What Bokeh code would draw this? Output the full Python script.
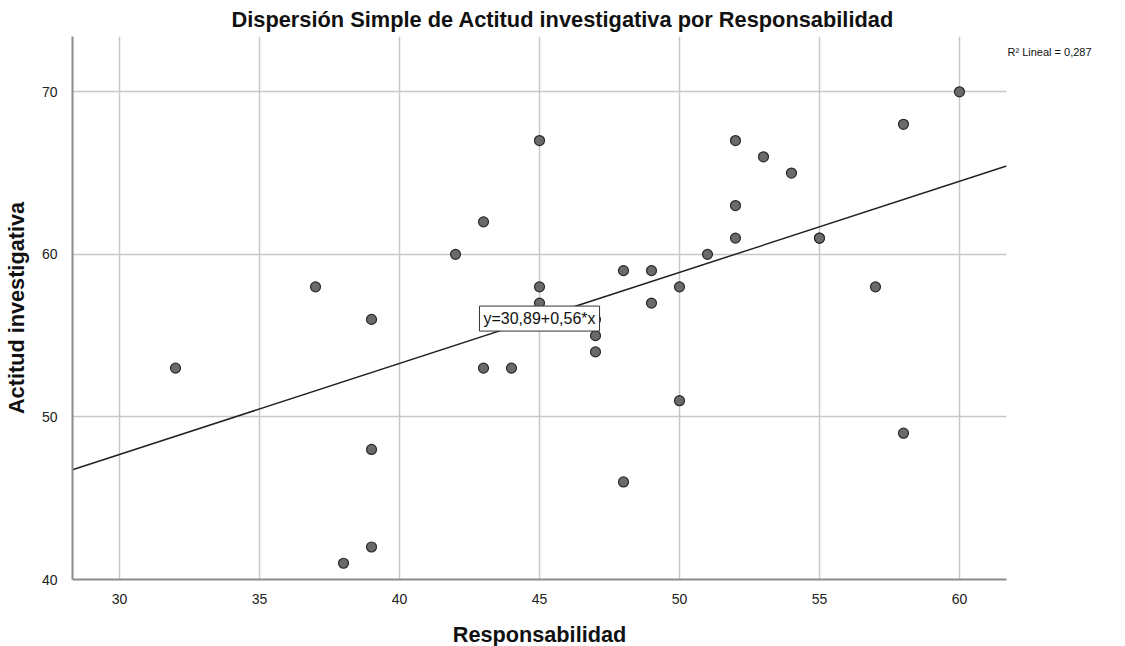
from bokeh.plotting import figure
from bokeh.models import Label, FixedTicker, Range1d
from bokeh.embed import file_html
from bokeh.resources import INLINE

# Data
responsabilidad = [32, 37, 38, 39, 39, 39, 42, 43, 43, 44, 45, 45, 45, 45,
                   47, 47, 47, 48, 48, 49, 49, 50, 50, 51, 52, 52, 52, 53,
                   54, 55, 55, 57, 58, 58, 60]
actitud = [53, 58, 41, 56, 48, 42, 60, 62, 53, 53, 67, 58, 57, 56,
           56, 55, 54, 59, 46, 59, 57, 58, 51, 60, 67, 63, 61, 66,
           65, 61, 61, 58, 68, 49, 70]
intercept = 30.89
slope = 0.56
r2_text = "R\u00b2 Lineal = 0,287"
eq_text = "y=30,89+0,56*x"
x_ticks = [30, 35, 40, 45, 50, 55, 60]
y_ticks = [40, 50, 60, 70]
x_range = (28.32, 61.68)
y_range = (40, 73.4)

FONT = "Liberation Sans"

p = figure(frame_width=934, frame_height=543, output_backend="svg", toolbar_location=None,
           x_range=Range1d(*x_range), y_range=Range1d(*y_range),
           min_border_left=65, min_border_right=105, min_border_top=27,
           min_border_bottom=55,
           title="Dispersión Simple de Actitud investigativa por Responsabilidad")

p.title.align = "left"
p.title.text_font = FONT
p.title.text_font_size = "21.8px"
p.title.text_font_style = "bold"
p.title.text_color = "#111111"
p.title.standoff = 9
p.title.offset = 159

p.outline_line_color = None
p.background_fill_color = "white"
p.border_fill_color = "white"

for ax in (p.xaxis[0], p.yaxis[0]):
    ax.axis_line_color = "#8c8c8c"
    ax.axis_line_width = 2
    ax.major_tick_line_color = None
    ax.minor_tick_line_color = None
    ax.major_label_text_font = FONT
    ax.major_label_text_font_size = "14px"
    ax.major_label_text_color = "#222222"
    ax.axis_label_text_font = FONT
    ax.axis_label_text_font_size = "21.7px"
    ax.axis_label_text_font_style = "bold"
    ax.axis_label_text_color = "#111111"

p.xaxis.ticker = FixedTicker(ticks=x_ticks)
p.yaxis.ticker = FixedTicker(ticks=y_ticks)
p.xaxis.axis_label = "Responsabilidad"
p.yaxis.axis_label = "Actitud investigativa"
p.xaxis.major_label_standoff = 8
p.yaxis.major_label_standoff = 9
p.xaxis.axis_label_standoff = 15
p.yaxis.axis_label_standoff = 10

p.xgrid.ticker = FixedTicker(ticks=x_ticks)
p.ygrid.ticker = FixedTicker(ticks=y_ticks)
p.grid.grid_line_color = "#c8c8c8"
p.grid.grid_line_width = 1.5

# Regression line across the full x range
lx = [x_range[0], x_range[1]]
ly = [intercept + slope * v for v in lx]
p.line(lx, ly, line_color="#222222", line_width=1.5)

p.scatter(responsabilidad, actitud, size=10, fill_color="#6a6a6a",
          line_color="#2a2a2a", line_width=1.2)

p.add_layout(Label(x=45, y=56.05, text=eq_text, text_align="center",
                   text_baseline="middle", text_font=FONT,
                   text_font_size="16px", text_color="#111111",
                   background_fill_color="white", border_line_color="#333333",
                   border_line_width=1, padding=4))

p.add_layout(Label(x=1, y=528, x_units="screen", y_units="screen",
                   text=r2_text, text_align="left",
                   text_baseline="middle", text_font=FONT,
                   text_font_size="11px", text_color="#111111"), "right")

open("out.html", "w").write(file_html(p, INLINE))
